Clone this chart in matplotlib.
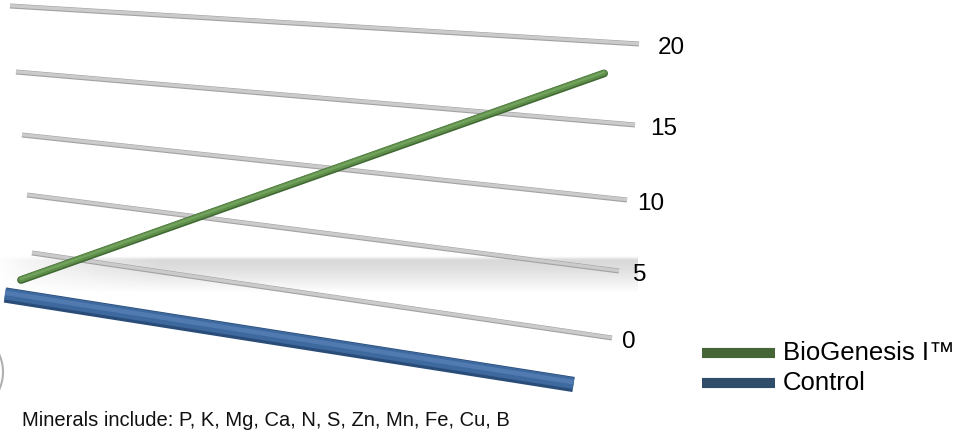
#!/usr/bin/env python3
"""3D-style line chart: BioGenesis I vs Control"""

import matplotlib
matplotlib.use('Agg')
import matplotlib.pyplot as plt
import matplotlib.patches as mpatches
import matplotlib.transforms as mtransforms
import numpy as np

plt.rcParams['font.family'] = ['Liberation Sans', 'DejaVu Sans']

# data
grid_values = [0, 5, 10, 15, 20]
tick_labels = ['0', '5', '10', '15', '20']
category_pos = [0.0, 0.962]          # position of the two categories along the wall
biogenesis = [0, 20]
control = [0, 0]
series_names = ['BioGenesis I™', 'Control']
footnote = 'Minerals include: P, K, Mg, Ca, N, S, Zn, Mn, Fe, Cu, B'

# back wall geometry (pixels) for each gridline value
wall_left_x = [32, 27, 22, 16, 10]
wall_left_y = [253, 195, 135, 72, 6]
wall_right_x = [612, 619, 627, 635, 639]
wall_right_y = [338, 271, 200, 125, 44]
tick_dx = [10, 14, 10, 15, 19]

# depth offsets of each series (left end, right end)
depth_bio = [(-11, 27), (-11, 31)]
depth_ctl = [(-27, 42), (-16, 50)]


def project(f, v, depth=None):
    xl = np.interp(v, grid_values, wall_left_x)
    yl = np.interp(v, grid_values, wall_left_y)
    xr = np.interp(v, grid_values, wall_right_x)
    yr = np.interp(v, grid_values, wall_right_y)
    x = xl + (xr - xl) * f
    y = yl + (yr - yl) * f
    if depth is not None:
        x += depth[0][0] * (1 - f) + depth[1][0] * f
        y += depth[0][1] * (1 - f) + depth[1][1] * f
    return x, y


def tube(ax, xs, ys, width, dark, mid, light, cap='butt', z=5):
    ax.plot(xs, ys, color=dark, lw=width, solid_capstyle=cap, zorder=z)
    up = mtransforms.offset_copy(ax.transData, fig=ax.figure, y=width * 0.08, units='points')
    ax.plot(xs, ys, color=mid, lw=width * 0.75, solid_capstyle=cap, zorder=z + 0.1, transform=up)
    hi = mtransforms.offset_copy(ax.transData, fig=ax.figure, y=width * 0.15, units='points')
    ax.plot(xs, ys, color=light, lw=width * 0.3, solid_capstyle=cap, zorder=z + 0.2,
            transform=hi, alpha=0.45)


fig = plt.figure(figsize=(9.6, 4.33), dpi=100)
ax = fig.add_axes([0, 0, 1, 1])
ax.set_xlim(0, 960)
ax.set_ylim(433, 0)
ax.axis('off')

# floor shadow band
h, w = 60, 300
vert = np.interp(np.linspace(0, 1, h), [0, 0.1, 0.35, 1], [0, 0.3, 0.25, 0])
horiz = np.interp(np.linspace(0, 1, w), [0, 0.05, 0.25, 1], [0.05, 0.3, 1, 1])
rgba = np.zeros((h, w, 4))
rgba[..., :3] = 0.5
rgba[..., 3] = vert[:, None] * horiz[None, :]
ax.imshow(rgba, extent=(0, 638, 293, 256), aspect='auto', zorder=1, interpolation='bilinear')

# gridlines on the back wall
for v, lab, dx in zip(grid_values, tick_labels, tick_dx):
    x0, y0 = project(0.0, v)
    x1, y1 = project(1.0, v)
    ax.plot([x0, x1], [y0, y1], color='#a2a2a2', lw=3.6, solid_capstyle='butt', zorder=2)
    ax.plot([x0, x1], [y0 - 0.3, y1 - 0.3], color='#cbcbcb', lw=2.4, solid_capstyle='butt', zorder=2.1)
    ax.text(x1 + dx, y1 + 4, lab, fontsize=17.5, ha='left', va='center', color='black', zorder=3)

# series
f = np.array(category_pos)
bx, by = project(f, np.array(biogenesis, dtype=float), depth_bio)
cx, cy = project(f, np.array(control, dtype=float), depth_ctl)
tube(ax, cx, cy, 11, '#2a4c78', '#3d699f', '#6a93c6', z=6)
tube(ax, bx, by, 5.6, '#3f6833', '#5e8e4a', '#8cbd76', cap='round', z=5)

# small arc artefact at the lower left
ax.add_patch(mpatches.Arc((-40, 372), 86, 86, theta1=-45, theta2=45,
                          color='#b0b0b0', lw=1.5, zorder=1))

# legend (drawn by hand to match placement)
legend_colors = ['#466537', '#2f4d6b']
legend_y = [353, 383]
for name, col, ly in zip(series_names, legend_colors, legend_y):
    ax.plot([702, 775], [ly, ly], color=col, lw=7.3, solid_capstyle='butt')
    ax.text(783, ly, name, fontsize=18.5, ha='left', va='center', color='black')

ax.text(22, 421, footnote, fontsize=14.5, ha='left', va='center', color='#111111')

plt.savefig('out.png', dpi=100)
